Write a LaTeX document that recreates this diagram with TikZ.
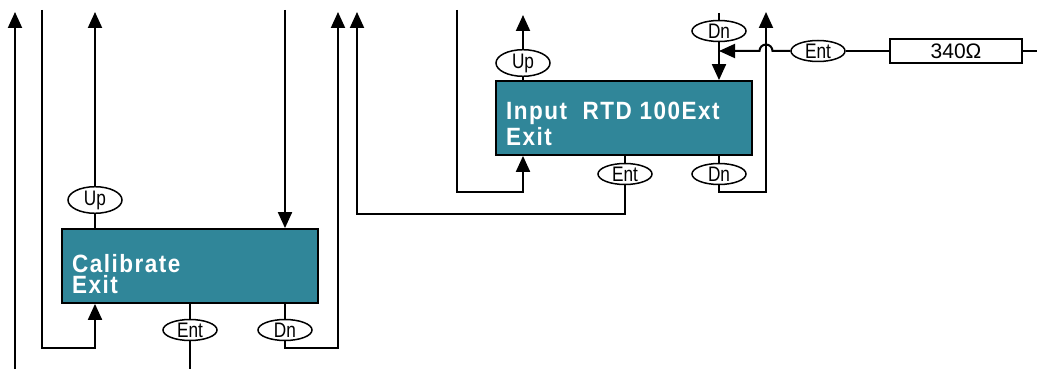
\documentclass[tikz,border=0pt]{standalone}
\usepackage{fontspec}
\setmainfont{Liberation Sans}
\newfontfamily\lcdfont[FakeStretch=0.9,LetterSpace=6]{Liberation Sans}
\newfontfamily\keyfont[FakeStretch=0.82]{Liberation Sans}
\usepackage{xcolor}
\usetikzlibrary{arrows.meta, shapes.geometric, positioning}
\definecolor{lcdteal}{RGB}{48,134,153}

\begin{document}
\begin{tikzpicture}[x=0.5pt, y=-0.5pt, line width=1pt,
    >={Triangle[width=7pt,length=8pt]},
    lcd/.style={draw, fill=lcdteal, minimum width=128pt, minimum height=37pt, inner sep=0pt, line width=0.9pt},
    lcdtxt/.style={text=white, font=\lcdfont\bfseries\fontsize{12.5}{10.5}\selectfont, align=left, inner sep=0pt, anchor=base west},
    key/.style={draw, ellipse, fill=white, minimum width=27pt, minimum height=10.5pt, inner sep=0pt, line width=0.75pt, font=\keyfont\fontsize{10.5}{10.5}\selectfont},
    res/.style={draw, minimum width=66pt, minimum height=12pt, inner sep=0pt, line width=0.75pt, font=\fontsize{10.5}{10.5}\selectfont}]
    \useasboundingbox (0,0) rectangle (1037,369);

    % displays
    \node[lcd] (cal) at (190,266) {};
    \node[lcdtxt] at ([shift={(10,65)}]cal.north west) {Calibrate\\Exit};
    \node[lcd] (inp) at (624,118) {};
    \node[lcdtxt] at ([shift={(10,65)}]inp.north west) {Input\ \ RTD 100Ext\\Exit};

    % keys
    \node[key] (upcal) at (95,200) {Up};
    \node[key] (entcal) at (190,330) {Ent};
    \node[key] (dncal) at (285,330) {Dn};
    \node[key] (upinp) at (523,63) {Up};
    \node[key] (entinp) at (625,174) {Ent};
    \node[key] (dninp) at (719,174) {Dn};
    \node[key] (dntop) at (719,31) {Dn};
    \node[key] (entres) at (818,51) {Ent};
    \node[res] (res) at (956,51) {340Ω};

    % free ends
    \coordinate (t15) at (15,12);
    \coordinate (b15) at (15,369);
    \coordinate (t42) at (42,10);
    \coordinate (t95) at (95,12);
    \coordinate (t285) at (285,10);
    \coordinate (b190) at (190,369);
    \coordinate (t338) at (338,12);
    \coordinate (t357) at (357,12);
    \coordinate (t457) at (457,10);
    \coordinate (t523) at (523,15);
    \coordinate (t719) at (719,13);
    \coordinate (t766) at (766,12);
    \coordinate (r1037) at (1037,51);

    \draw[->] (b15) -- (t15);
    \draw[->] (t42) -- (42,348) -| (cal.south -| upcal);
    \draw (cal.north -| upcal) -- (upcal);
    \draw[->] (upcal) -- (t95);
    \draw[->] (t285) -- (cal.north -| dncal);
    \draw (cal.south -| entcal) -- (entcal) -- (b190);
    \draw[->] (cal.south -| dncal) -- (dncal) -- (285,348) -| (t338);

    \draw[->] (inp.south -| entinp) -- (entinp) -- (625,214) -| (t357);
    \draw[->] (t457) -- (457,192) -| (inp.south -| upinp);
    \draw (inp.north -| upinp) -- (upinp);
    \draw[->] (upinp) -- (t523);
    \draw (t719) -- (dntop);
    \draw[->] (dntop) -- (inp.north -| dntop);
    \draw[->] (inp.south -| dninp) -- (dninp) -- (719,192) -| (t766);

    \draw (r1037) -- (res);
    \draw (res) -- (entres);
    \draw[->] (entres) -- (772.5,51) arc[start angle=0, end angle=180, radius=3.25pt] -- (dntop |- entres);
\end{tikzpicture}
\end{document}
